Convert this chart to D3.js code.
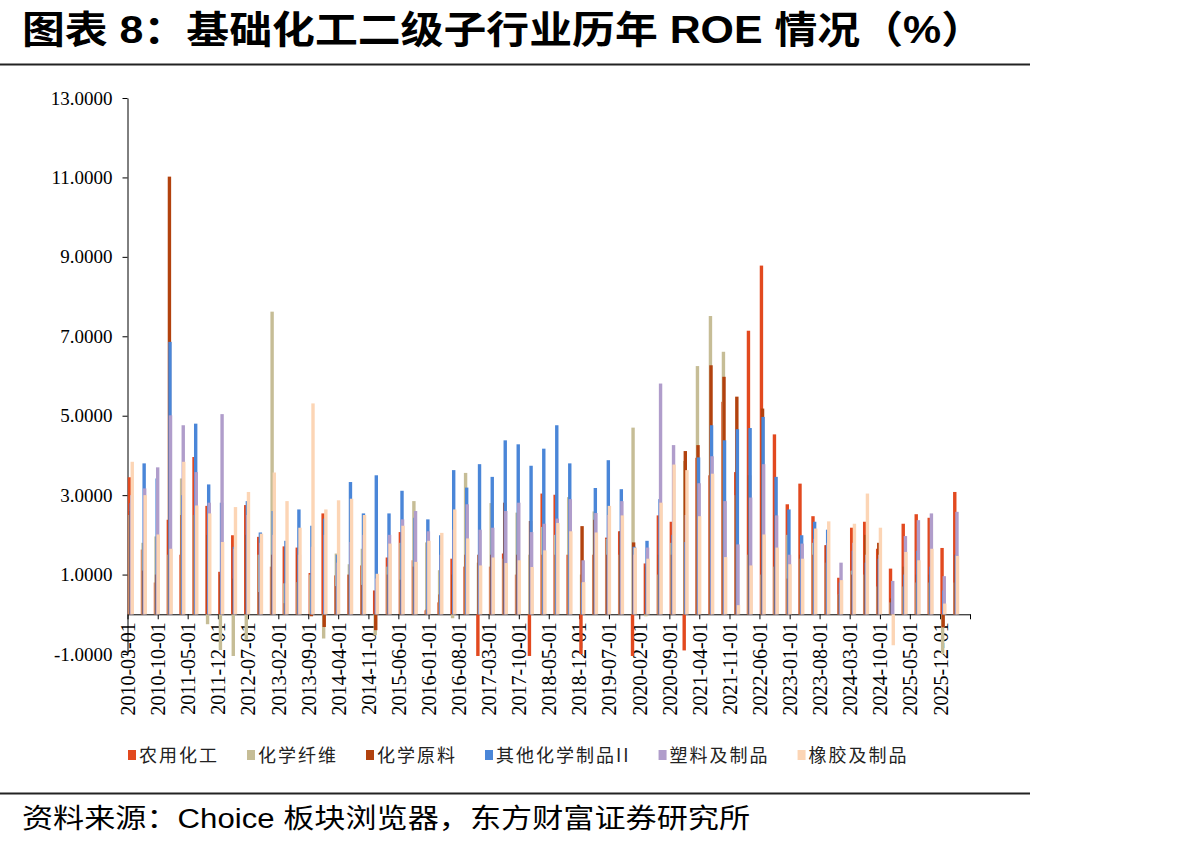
<!DOCTYPE html>
<html>
<head>
<meta charset="utf-8">
<script src="https://cdn.jsdelivr.net/npm/d3@7"></script>
<style>
body { margin: 0; background: #fff; }
svg { display: block; }
</style>
</head>
<body>
<script>
var width = 1192, height = 846;

// legend / series
var seriesNames = ['农用化工', '化学纤维', '化学原料', '其他化学制品II', '塑料及制品', '橡胶及制品'];
var seriesColors = ['#e2491f', '#c6bd96', '#b2420e', '#4a86d8', '#b09dcb', '#fcd5b5'];

// quarterly ROE, 2010-03 .. 2026-03 (65 quarters)
var agro = [3.45, 1.63, 0.8, 2.38, 1.5, 3.96, 2.73, 1.07, 1.99, 2.75, 1.95, 1.2, 1.71, 1.68, 1.04, 2.54,
  0.98, 1.0, 1.23, 0.6, 1.43, 2.07, 1.36, 0.1, 0.3, 1.40, 1.2, -1.05, 1.2, 1.53, 1.0, -1.05,
  3.04, 3.01, 1.5, -1.0, 1.5, 1.93, 2.09, -1.05, 1.28, 2.49, 2.33, -0.91, 3.94, 3.5, 5.35, 3.58,
  7.14, 8.78, 4.53, 2.77, 3.29, 2.47, 1.74, 0.92, 2.18, 2.33, 1.65, 1.15, 2.28, 2.52, 2.43, 1.67, 3.08];
var fiber = [2.5, 1.8, 1.96, 1.5, 3.42, 2.5, -0.25, -0.9, -1.05, -0.65, 1.5, 7.62, 0.78, 0.81, 1.0, -0.61,
  1.53, 1.26, 1.65, -0.53, 1.2, 1.8, 2.85, 1.81, 1.11, -0.1, 3.56, 1.3, 2.80, 1.4, 2.56, 1.5,
  2.2, 2.0, 2.95, 1.0, 2.59, 1.9, 1.5, 4.70, -0.05, 1.0, 1.8, 3.86, 6.25, 7.51, 6.61, 3.0,
  1.5, 1.0, 1.2, 2.0, 1.4, 1.8, 1.3, 0.5, 1.1, 1.0, 0.7, 0.3, 0.7, 0.8, 0.8, -1.0, 0.8];
var rawMat = [2.6, 1.1, 1.0, 11.02, 2.5, 2.5, 2.0, 1.0, 0.9, 2.0, 0.56, 1.5, 0.28, 1.5, -0.05, -0.32,
  0.71, 1.0, 0.74, -0.4, 1.0, 0.87, 1.2, 0.12, 0.5, 1.0, 1.5, 1.5, 1.5, 2.81, 1.5, 2.35,
  1.5, 1.5, 1.5, 2.22, 2.38, 1.5, 2.09, 1.81, 1.2, 1.5, 1.5, 4.11, 4.26, 6.27, 5.98, 5.48,
  3.5, 5.18, 2.5, 0.9, 1.5, 1.5, 1.74, 0.5, 1.0, 2.0, 1.80, 0.4, 1.2, 1.0, 1.0, -0.33, 1.5];
var otherChem = [2.8, 3.8, 3.42, 6.86, 3.0, 4.80, 3.27, 2.81, 1.7, 2.85, 2.06, 2.6, 1.85, 2.64, 2.23, 2.41,
  1.5, 3.33, 2.54, 3.5, 2.54, 3.11, 2.43, 2.39, 1.99, 3.63, 3.19, 3.78, 3.46, 4.38, 4.28, 3.74,
  4.17, 4.76, 3.80, 0.8, 3.18, 3.88, 3.15, 1.7, 1.85, 2.90, 2.0, 1.82, 3.95, 4.76, 4.38, 4.66,
  4.69, 4.97, 3.46, 2.64, 1.99, 2.33, 2.13, 0.8, 1.6, 1.3, 1.4, 0.3, 1.0, 1.6, 1.2, 0.6, 1.5];
var plastics = [3.0, 3.17, 3.70, 5.01, 4.76, 3.58, 2.81, 5.04, 1.65, 2.5, 1.8, 2.0, 0.78, 1.5, 1.7, 2.0,
  1.3, 1.82, 2.0, 0.9, 2.0, 2.39, 2.60, 2.09, 1.5, 2.13, 2.77, 2.13, 2.18, 2.6, 2.81, 2.07,
  2.28, 2.41, 2.9, 1.36, 2.55, 2.5, 2.85, 1.5, 1.68, 5.81, 4.26, 2.5, 3.3, 3.98, 2.85, 1.76,
  2.94, 3.78, 2.49, 1.5, 1.78, 1.9, 1.8, 1.30, 1.8, 1.5, 1.5, 0.84, 1.97, 2.37, 2.54, 0.96, 2.58];
var rubber = [3.84, 3.0, 2.01, 1.65, 3.84, 2.74, 2.54, 1.82, 2.70, 3.08, 2.03, 3.57, 2.85, 2.18, 5.31, 2.64,
  2.87, 2.91, 2.50, 1.02, 1.78, 2.23, 1.32, 1.85, 2.05, 2.64, 1.91, 1.23, 1.43, 1.29, 1.36, 1.19,
  1.61, 2.30, 2.09, 0.81, 2.06, 2.73, 2.49, 1.68, 1.40, 2.81, 3.77, 3.63, 2.47, 3.54, 1.44, 0.23,
  1.23, 2.01, 1.68, 1.26, 1.40, 2.16, 2.34, 0.86, 2.28, 3.04, 2.18, -0.78, 1.57, 1.36, 1.65, 0.27, 1.47];
var seriesValues = [agro, fiber, rawMat, otherChem, plastics, rubber];

var yTicks = [-1, 1, 3, 5, 7, 9, 11, 13];

var parseDate = d3.timeParse('%Y-%m-%d');
var firstDate = parseDate('2010-03-01');
var axisEnd = parseDate('2026-07-01');
var quarters = d3.timeMonth.range(firstDate, parseDate('2026-04-01'), 3);
var tickDates = d3.range(0, 197, 7).map(function(m) { return d3.timeMonth.offset(firstDate, m); });

var svg = d3.select('body').append('svg')
  .attr('width', width)
  .attr('height', height);

svg.append('rect').attr('width', width).attr('height', height).attr('fill', '#fff');

// title + rules
svg.append('text')
  .attr('x', 22).attr('y', 43)
  .attr('textLength', 962).attr('lengthAdjust', 'spacingAndGlyphs')
  .style('font-family', '"Liberation Sans", "Noto Sans CJK SC", sans-serif')
  .style('font-size', '38px').style('font-weight', 'bold').attr('fill', '#000')
  .text('图表 8：基础化工二级子行业历年 ROE 情况（%）');

svg.append('line').attr('x1', 0).attr('x2', 1030).attr('y1', 64.5).attr('y2', 64.5)
  .attr('stroke', '#222').attr('stroke-width', 2);
svg.append('line').attr('x1', 0).attr('x2', 1030).attr('y1', 793.5).attr('y2', 793.5)
  .attr('stroke', '#222').attr('stroke-width', 2);

svg.append('text')
  .attr('x', 22).attr('y', 828)
  .attr('textLength', 728).attr('lengthAdjust', 'spacingAndGlyphs')
  .style('font-family', '"Liberation Sans", "Noto Sans CJK SC", sans-serif')
  .style('font-size', '27px').attr('fill', '#000')
  .text('资料来源：Choice 板块浏览器，东方财富证券研究所');

// scales
var x = d3.scaleTime().domain([firstDate, axisEnd]).range([127.5, 970]);
var y = d3.scaleLinear().domain([-1, 13]).range([654, 98]);

var fmt = d3.formatLocale({decimal: '.', thousands: ',', grouping: [3], currency: ['', ''], minus: '-'}).format('.4f');
var labelFmt = d3.timeFormat('%Y-%m-%d');

var yAxis = svg.append('g')
  .attr('transform', 'translate(127.5,0)')
  .call(d3.axisLeft(y).tickValues(yTicks).tickFormat(fmt).tickSize(5).tickSizeOuter(0));
yAxis.selectAll('text')
  .style('font-family', '"Liberation Serif", "Times New Roman", serif')
  .style('font-size', '19px').attr('fill', '#000').attr('x', -15);

var xAxis = svg.append('g')
  .attr('transform', 'translate(0,' + y(0) + ')')
  .call(d3.axisBottom(x).tickValues(tickDates)
    .tickFormat(function(d) { return +d === +axisEnd ? '' : labelFmt(d); })
    .tickSize(5).tickSizeOuter(0));
xAxis.selectAll('text')
  .style('font-family', '"Liberation Serif", "Times New Roman", serif')
  .style('font-size', '20px').attr('fill', '#000')
  .attr('transform', 'rotate(-90)')
  .attr('text-anchor', 'end')
  .attr('x', -8).attr('y', 0).attr('dy', '0.35em');

svg.selectAll('.domain, .tick line').attr('stroke', '#000');

// bars: six overlapping, slightly offset bars per quarter
var barW = 3.4, step = 0.55;
seriesValues.forEach(function(vals, i) {
  svg.append('g').selectAll('rect')
    .data(vals)
    .join('rect')
    .attr('x', function(d, k) { return x(quarters[k]) + 0.3 + i * step; })
    .attr('width', barW)
    .attr('y', function(d) { return y(Math.max(0, d)); })
    .attr('height', function(d) { return Math.abs(y(d) - y(0)); })
    .attr('fill', seriesColors[i]);
});

// legend
var legend = svg.append('g').attr('transform', 'translate(128,0)');
var lx = 0;
seriesNames.forEach(function(name, i) {
  var g = legend.append('g').attr('transform', 'translate(' + lx + ',0)');
  g.append('rect').attr('x', 0).attr('y', 750).attr('width', 8).attr('height', 10).attr('fill', seriesColors[i]);
  var t = g.append('text')
    .attr('x', 11).attr('y', 762)
    .style('font-family', '"Noto Sans CJK SC", sans-serif')
    .style('font-size', '18px').style('letter-spacing', '2px').attr('fill', '#222')
    .text(name);
  lx += 11 + t.node().getComputedTextLength() + 28;
});
</script>
</body>
</html>
